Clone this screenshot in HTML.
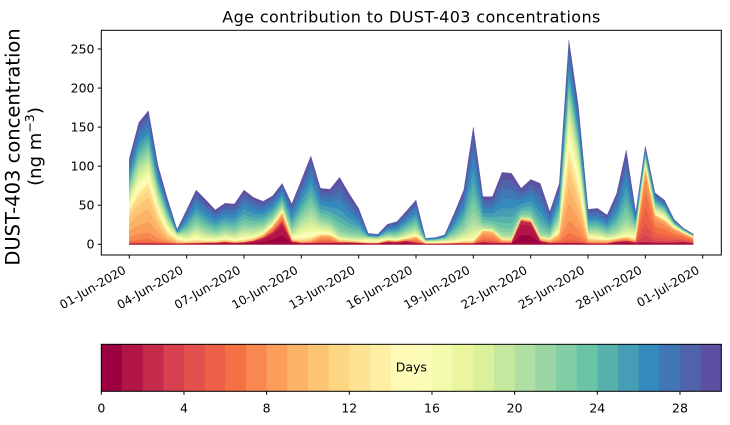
<!DOCTYPE html>
<html><head><meta charset="utf-8">
<style>
body{margin:0;background:#fff}
svg{display:block}
text{font-family:"DejaVu Sans","Liberation Sans",sans-serif;fill:#000}
</style></head>
<body>
<svg id="s" width="730" height="425" viewBox="0 0 730 425" xmlns="http://www.w3.org/2000/svg">
<rect width="730" height="425" fill="#fff"/>
<g id="areas"></g>
<rect x="101.3" y="30.3" width="620" height="224.7" fill="none" stroke="#000" stroke-width="1"/>
<text x="411.3" y="22.5" text-anchor="middle" font-size="16" textLength="378">Age contribution to DUST-403 concentrations</text>
<g id="yt" stroke="#000" stroke-width="1"></g>
<g id="ytl" font-size="12.5" text-anchor="end"></g>
<g id="xt" stroke="#000" stroke-width="1"></g>
<g id="xtl" font-size="12" text-anchor="end"></g>
<text transform="translate(19.5,147) rotate(-90)" text-anchor="middle" font-size="19.5">DUST-403 concentration</text>
<text transform="translate(41,146.5) rotate(-90)" text-anchor="middle" font-size="18">(ng m<tspan dy="-7" font-size="12.6">−3</tspan><tspan dy="7">)</tspan></text>
<g id="cb"></g>
<rect x="101.3" y="344.3" width="620" height="47" fill="none" stroke="#000" stroke-width="1"/>
<text x="411.3" y="371.5" text-anchor="middle" font-size="12.5">Days</text>
<g id="ct" stroke="#000" stroke-width="1"></g>
<g id="ctl" font-size="12.5" text-anchor="middle"></g>
</svg>
<script>
(function(){
const D=[
[110,0.8,40,9,19,5],[156,0.8,60,9,18,5],[171,0.8,70,9,18,5],[101,0.8,35,9,18,5],[58,0.8,12,9,18,5],
[19,0.5,4,10,15,4],[44,0.8,2,10,19,5],[69.5,1,3,10,19,5],[57,1.5,2,10,20,5],[44,1.5,2,10,20,5],
[52.5,2.5,3,10,20,5],[51.6,1.5,2,10,20,5],[69.5,2,3,10,20,5],[60,4,3,9,20,5],[55,8,4,8,20,5],
[62,15,8,7,20,5],[78,28,12,7,20,5],[51.6,3,3,8,20,5],[82,1.5,3,10,19,5],[113,1.5,5,9,19,4.5],
[71.7,1.5,10,7,20,5],[70.4,1.5,10,7,21,5],[85.8,2,4,10,23,4.5],[65,2,3,10,23,4.5],[46,1.5,2,10,22,5],
[14,0.8,1,10,16,4],[12.8,0.8,1,10,16,4],[25.6,3,2,8,19,5],[29,2.5,2,8,20,5],[42.6,4,3,8,20,5],
[56.7,1.5,8,7,20,5],[7.7,0.4,0.5,10,17,4],[8.5,0.4,0.5,10,17,4],[12,0.4,1,10,18,4],[39.7,0.8,1,10,20,4.5],
[69.5,0.8,3,10,20,4.5],[150,0.8,3,10,20,4],[61,2.5,15,7,22,4.5],[61,1.5,15,7,22.5,4.5],[92,1.5,5,9,23,4],
[91,1.5,4,9,23,4],[71.7,30,3,9,23,4],[83,28,3,9,23,4],[78,4,4,9,23,4],[41.7,1.5,4,9,22,4.5],
[78,1.5,12,8,19,5],[261.6,1.5,100,8.5,16,5],[176,1.5,60,8.5,16,5],[44.8,0.8,6,9,19,5],[46,0.8,5,9,19,5],
[37.5,0.8,4,9,20,5],[65,3,4,8,21,4.5],[120.7,4,5,8,21,4.5],[40.5,2,3,8,18,5],[125.9,3,92,5.5,18,5],
[66,2,35,6,19,5],[56.7,2,28,6,18,5],[32,2,18,6,18,5],[20.5,3,11,6,17,5],[13.2,1,7,6,17,5]];
const small=new Set([0,1,2,3,4,5,25,26,31,32,33,46,47,53,54,55,56,57,58,59]);
const mid=new Set([18,19,20,21]);
const stops=[[158,1,66],[213,62,79],[244,109,67],[253,174,97],[254,224,139],[255,255,191],[230,245,152],[171,221,164],[102,194,165],[50,136,189],[94,79,162]];
function col(t){const p=t*10;let i=Math.floor(p);if(i>=10)i=9;const f=p-i;const a=stops[i],b=stops[i+1];return 'rgb('+a.map((v,j)=>Math.round(v+(b[j]-v)*f)).join(',')+')';}
function g(k,c,s){return Math.exp(-0.5*((k-c)/s)*((k-c)/s));}
function dist(c,s,lo,hi){const w=[];let sum=0;for(let k=0;k<30;k++){const v=(k>=lo&&k<=hi)?g(k,c,s):0;w.push(v);sum+=v;}return w.map(v=>v/sum);}
const dr=dist(0.6,0.9,0,3), db=dist(27,2.2,22,29);
const N=D.length, cum=[];
for(let i=0;i<N;i++){
  const [T,R,O,Oc,C,S]=D[i];
  const off=small.has(i)?1:(mid.has(i)?2:3);
  const dO=dist(Oc,1.8,3,12);
  const dm=dist(C+off,S,10,29);
  const main=Math.max(0,T-R-O);
  const c=[0];let acc=0;
  for(let k=0;k<30;k++){acc+=R*dr[k]+O*dO[k]+main*(0.32*db[k]+0.68*dm[k]);c.push(acc);}
  cum.push(c);
}
const X=i=>129.3+9.5565*i, Y=v=>244.3-0.7812*v;
let h='';
for(let k=29;k>=0;k--){
  let pts=[];
  for(let i=0;i<N;i++) pts.push(X(i).toFixed(2)+','+Y(cum[i][k+1]).toFixed(2));
  pts.push(X(N-1).toFixed(2)+','+Y(0).toFixed(2));
  pts.push(X(0).toFixed(2)+','+Y(0).toFixed(2));
  const cc=col(k/29);
  h+='<polygon points="'+pts.join(' ')+'" fill="'+cc+'" stroke="'+cc+'" stroke-width="0.3"/>';
}
document.getElementById('areas').innerHTML=h;
let yt='',ytl='';
for(let v=0;v<=250;v+=50){const y=Y(v);yt+='<line x1="97.8" x2="101.3" y1="'+y+'" y2="'+y+'"/>';ytl+='<text x="94.5" y="'+(y+4.4)+'">'+v+'</text>';}
document.getElementById('yt').innerHTML=yt;document.getElementById('ytl').innerHTML=ytl;
const labs=['01-Jun-2020','04-Jun-2020','07-Jun-2020','10-Jun-2020','13-Jun-2020','16-Jun-2020','19-Jun-2020','22-Jun-2020','25-Jun-2020','28-Jun-2020','01-Jul-2020'];
let xt='',xtl='';
labs.forEach((l,k)=>{const x=129.3+57.339*k;xt+='<line x1="'+x+'" x2="'+x+'" y1="255" y2="258.5"/>';xtl+='<text transform="translate('+(x-2.5)+',272.5) rotate(-30)">'+l+'</text>';});
document.getElementById('xt').innerHTML=xt;document.getElementById('xtl').innerHTML=xtl;
let cb='';const bw=620/30;
for(let k=0;k<30;k++){cb+='<rect x="'+(101.3+k*bw).toFixed(2)+'" y="344.3" width="'+(bw+0.4).toFixed(2)+'" height="47" fill="'+col(k/29)+'"/>';}
document.getElementById('cb').innerHTML=cb;
let ct='',ctl='';
for(let k=0;k<=28;k+=4){const x=101.3+k*bw;ct+='<line x1="'+x+'" x2="'+x+'" y1="391.3" y2="394.8"/>';ctl+='<text x="'+x+'" y="412.5">'+k+'</text>';}
document.getElementById('ct').innerHTML=ct;document.getElementById('ctl').innerHTML=ctl;
})();
</script>
</body></html>
